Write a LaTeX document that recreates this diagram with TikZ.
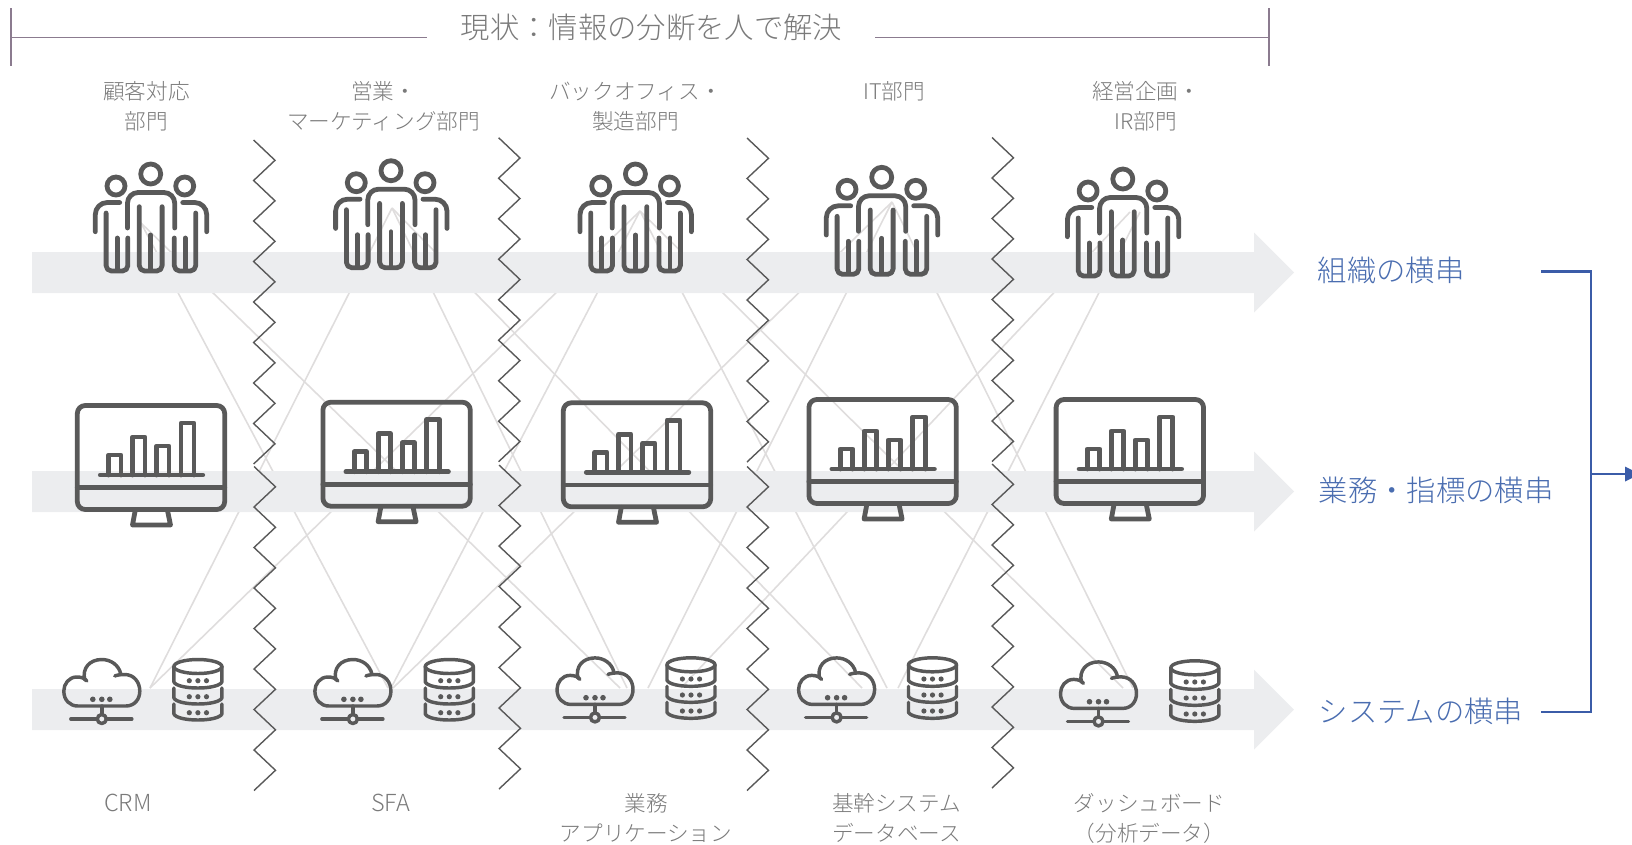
\documentclass[tikz,border=0pt]{standalone}
\usepackage{fontspec}
\newfontfamily\jp{Noto Sans CJK JP Light}
\definecolor{bandgray}{HTML}{ECEDEF}
\definecolor{raygray}{HTML}{DFDDDD}
\definecolor{icongray}{HTML}{595959}
\definecolor{labelgray}{HTML}{7A7A7A}
\definecolor{brk}{HTML}{8B7B8F}
\definecolor{bluetxt}{HTML}{4A6DB0}
\definecolor{blueline}{HTML}{3B5CA8}
\tikzset{
  ray/.style={draw=raygray,line width=1.2pt},
  band/.style={fill=bandgray,draw=none},
  zig/.style={draw=icongray,line width=1.05pt,miter limit=10},
  thick icon/.style={draw=icongray,line width=3.6pt,line cap=round,line join=round},
  thin icon/.style={draw=icongray,line width=2.6pt,line cap=round,line join=round},
  dept/.style={text=labelgray,align=center,font=\jp\fontsize{16.2}{22.5}\selectfont},
  sidelabel/.style={text=bluetxt,anchor=west,font=\jp\fontsize{22}{26}\selectfont},
  brkline/.style={draw=brk,line width=1.3pt},
  blueconn/.style={draw=blueline,line width=2pt},
  peoplepic/.pic={
    \draw[thick icon] (0,174) circle[radius=10];
    \draw[thick icon] (-34.7,186) circle[radius=9];
    \draw[thick icon] (34,186) circle[radius=9];
    \draw[thick icon,rounded corners=8pt] (-23.2,228)--(-23.2,192.5)--(24,192.5)--(24,228);
    \draw[thick icon,rounded corners=4pt] (-11.4,206.7)--(-11.4,271)--(11.4,271)--(11.4,206.7);
    \draw[thick icon] (0,235)--(0,270);
    \draw[thick icon,rounded corners=9pt] (-55.4,231.7)--(-55.4,202.5)--(-31,202.5);
    \draw[thick icon,rounded corners=4pt] (-44.6,213)--(-44.6,271)--(-22.9,271)--(-22.9,238);
    \draw[thick icon] (-33.6,238)--(-33.6,270);
    \draw[thick icon,rounded corners=9pt] (56,231.7)--(56,202.5)--(32,202.5);
    \draw[thick icon,rounded corners=4pt] (45,213)--(45,271)--(23.6,271)--(23.6,238);
    \draw[thick icon] (34.5,238)--(34.5,270);
  },
  monitorpic/.pic={
    \draw[thick icon,rounded corners=6pt] (-73.7,405.5) rectangle (73.7,509.5);
    \draw[thick icon] (-73.7,487.7)--(73.7,487.7);
    \draw[thick icon] (-15.7,510)--(-18.5,525)--(19.5,525)--(16.4,510);
    \draw[thick icon] (-50.7,475)--(51.8,475);
    \draw[thick icon] (-42.5,475)--(-42.5,455)--(-30,455)--(-30,475);
    \draw[thick icon] (-18.5,475)--(-18.5,437)--(-6,437)--(-6,475);
    \draw[thick icon] (5.5,475)--(5.5,446)--(18,446)--(18,475);
    \draw[thick icon] (30,475)--(30,423)--(43,423)--(43,475);
  },
  cloudpic/.pic={
    \draw[thin icon] (-15,681) .. controls (-17,678) and (-21,677) .. (-25,677)
      .. controls (-33,677) and (-38,684) .. (-38,691)
      .. controls (-38,700) and (-32,706) .. (-24,706) -- (24,706)
      .. controls (33,706) and (38,699) .. (38,691)
      .. controls (38,682) and (32,674.5) .. (23,674.5)
      .. controls (19,674.5) and (15,675) .. (13,676);
    \draw[thin icon] (-17,680) .. controls (-20,668) and (-12,659.5) .. (0,659.5)
      .. controls (9,659.5) and (17,665) .. (19,674);
    \draw[thin icon] (0,706)--(0,714);
    \draw[thin icon] (-31,719)--(-5,719);
    \draw[thin icon] (5,719)--(30,719);
    \draw[thin icon] (0,719) circle[radius=4.5];
    \foreach \d in {-9,0,8} \fill[icongray] (\d,699.3) circle[radius=2.8];
  },
  dbpic/.pic={
    \draw[thin icon] (0,666.5) ellipse[x radius=24,y radius=7];
    \draw[thin icon] (-24,666.5)--(-24,682) .. controls (-20,690) and (20,690) .. (24,682)--(24,666.5);
    \draw[thin icon] (-24,688)--(-24,698) .. controls (-20,706) and (20,706) .. (24,698)--(24,688);
    \draw[thin icon] (-24,704)--(-24,714) .. controls (-20,722) and (20,722) .. (24,714)--(24,704);
    \foreach \y in {680.7,696.7,712.7}
      \foreach \d in {-8.6,0,8.6} \fill[icongray] (\d,\y) circle[radius=2.6];
  }
}
\newcommand{\zigline}[3]{%
  \draw[zig] (#1,#3) \foreach \k in {0,...,7} { -- (#2,{#3+20.3+40.5*\k}) -- (#1,{#3+40.5*(\k+1)}) };
}
\begin{document}
\begin{tikzpicture}[x=0.75pt,y=-0.75pt]
\useasboundingbox (0,0) rectangle (1632,844);
% ray end points
\coordinate (a1) at (141,223);
\coordinate (a2) at (392,208);
\coordinate (a3) at (640,211);
\coordinate (a4) at (892,202);
\coordinate (a5) at (1130,212);
\coordinate (a6) at (1140,212);
\coordinate (e1) at (150,688);
\coordinate (e2) at (388,688);
\coordinate (e3) at (391,688);
\coordinate (e4) at (393,688);
\coordinate (e5) at (620,688);
\coordinate (e6) at (627,688);
\coordinate (e7) at (648,688);
\coordinate (e8) at (681,688);
\coordinate (e9) at (862,688);
\coordinate (e10) at (887,688);
\coordinate (e11) at (898,688);
\coordinate (e12) at (1123,688);
\coordinate (e13) at (1133,688);
\foreach \p/\q in {a1/e2,a1/e5,a2/e1,a2/e6,a2/e9,a3/e1,a3/e3,a3/e10,a3/e12,a4/e4,a4/e7,a4/e13,a5/e8,a6/e11}
  \draw[ray] (\p) -- (\q);
% bands
\foreach \c in {272.5,491.5,709.5}
  \fill[band] (32,\c-20.5) -- (1254,\c-20.5) -- (1254,\c-40) -- (1294,\c) -- (1254,\c+40) -- (1254,\c+20.5) -- (32,\c+20.5) -- cycle;
% zigzag dividers
\zigline{253.6}{275}{140}
\zigline{254}{275.5}{466.5}
\zigline{498.6}{520}{137.7}
\zigline{499}{520.5}{465}
\zigline{747}{768.5}{138}
\zigline{747}{768.5}{466.5}
\zigline{992}{1013.5}{137.5}
\zigline{992}{1013.5}{464}
% icons
\foreach \cx/\dy in {150.7/0,391/-3.3,635.4/0,881.7/3.3,1122.8/5}
  \pic at (\cx,\dy) {peoplepic};
\foreach \cx/\dy in {151/0,396.6/-3.3,637/-2.7,882.6/-6,1129.8/-6}
  \pic at (\cx,\dy) {monitorpic};
\foreach \cx/\dy in {101.8/0,352.9/0,595/-1.6,836.6/-1.6,1098.5/2.4}
  \pic at (\cx,\dy) {cloudpic};
\foreach \cx/\dy in {197.9/0,449.3/0,691/-1.7,932.5/-1.7,1194.8/1.3}
  \pic at (\cx,\dy) {dbpic};
% title bracket
\node[text=labelgray,font=\jp\fontsize{22}{26}\selectfont] (title) at (651.5,28) {現状：情報の分断を人で解決};
\coordinate (bl) at (11,37.5);
\coordinate (bltop) at (11,8);
\coordinate (blbot) at (11,66);
\coordinate (br) at (1269,37.5);
\coordinate (brtop) at (1269,8);
\coordinate (brbot) at (1269,66);
\coordinate (bli) at (427,37.5);
\coordinate (bri) at (875,37.5);
\draw[brkline] (bltop) -- (blbot);
\draw[brkline] (brtop) -- (brbot);
\draw[brkline] (bl) -- (bli);
\draw[brkline] (bri) -- (br);
% department labels
\node[dept] (d1) at (146.5,106.5) {顧客対応\\部門};
\node[dept] (d2) at (383.5,106.5) {営業・\\マーケティング部門};
\node[dept] (d3) at (635.5,106.5) {バックオフィス・\\製造部門};
\node[dept] (d4) at (894,91.5) {IT部門};
\node[dept] (d5) at (1146,106.5) {経営企画・\\IR部門};
% system labels
\node[dept,font=\jp\fontsize{17.6}{22.5}\selectfont] (s1) at (128,803) {CRM};
\node[dept,font=\jp\fontsize{17.6}{22.5}\selectfont] (s2) at (390.5,803) {SFA};
\node[dept] (s3) at (646,818) {業務\\アプリケーション};
\node[dept] (s4) at (896.5,818) {基幹システム\\データベース};
\node[dept] (s5) at (1149.5,818) {ダッシュボード\\（分析データ）};
% side labels
\node[sidelabel] (l1) at (1313,270.5) {組織の横串};
\node[sidelabel] (l2) at (1314,490.5) {業務・指標の横串};
\node[sidelabel] (l3) at (1314,711) {システムの横串};
% blue connector
\coordinate (c1) at (1541,271.5);
\coordinate (c2) at (1591,271.5);
\coordinate (c3) at (1591,712);
\coordinate (c4) at (1541,712);
\coordinate (c5) at (1591,474);
\coordinate (c6) at (1626,474);
\draw[blueconn,miter limit=10] (c1) -- (c2) -- (c3) -- (c4);
\draw[blueconn] (c5) -- (c6);
\fill[blueline] (1625,466.5) -- (1632,470) -- (1632,478) -- (1625,481.5) -- cycle;
\end{tikzpicture}
\end{document}
